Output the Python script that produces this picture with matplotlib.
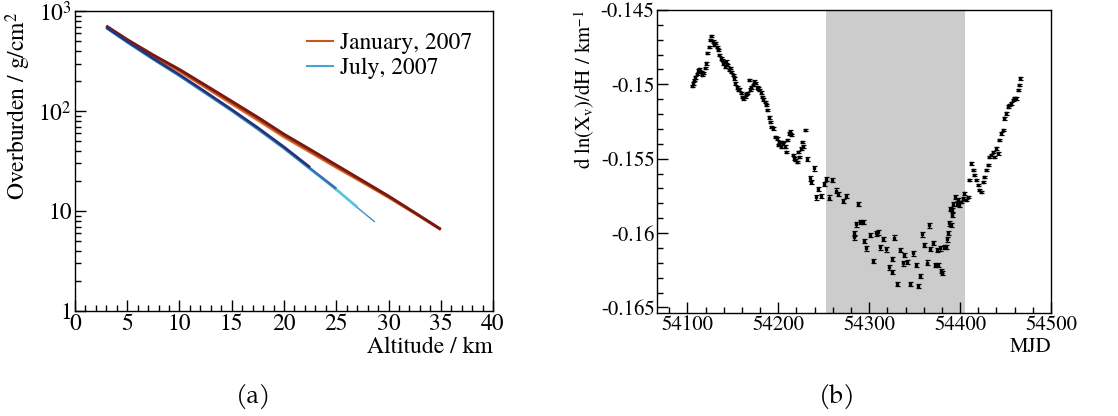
import matplotlib
matplotlib.use("Agg")
import matplotlib.pyplot as plt
from matplotlib.ticker import MultipleLocator, LogLocator, FixedLocator, FuncFormatter, NullFormatter
import numpy as np

plt.rcParams['font.family'] = ['TeX Gyre Termes', 'FreeSerif', 'DejaVu Serif']
plt.rcParams['mathtext.fontset'] = 'custom'
plt.rcParams['mathtext.rm'] = 'TeX Gyre Termes'
plt.rcParams['mathtext.it'] = 'TeX Gyre Termes:italic'
plt.rcParams['axes.unicode_minus'] = False

# (a) overburden profiles, altitude in km, overburden in g/cm^2
jan_alt = [3, 5, 7.5, 10, 12.5, 15, 17.5, 20, 22.5, 25, 27.5, 30, 32.5, 35]
jan_dark = [713, 522, 365, 262, 182, 126, 87, 59, 41.5, 29.0, 20.3, 14.2, 9.7, 6.6]
jan_mid = [710, 516, 360, 256, 177, 122, 84, 57, 40.0, 28.0, 19.8, 13.9, 9.6, 6.6]
jan_orange = [705, 510, 354, 250, 172, 118, 81, 55, 38.8, 27.3, 19.4, 13.7, 9.5, 6.5]

jul_alt = [3, 5, 7.5, 10, 12.5, 15, 17.5, 20, 22.5, 25, 27, 28.7]
jul_navy = [692, 500, 338, 232, 156, 104, 68.5, 44, 27.5]
jul_blue = [686, 494, 333, 228, 153, 102, 67, 43, 26.8, 16.8]
jul_cyan = [680, 490, 330, 226, 151, 101, 66, 42.5, 26.5, 16.5, 11.0]
jul_steel = [678, 488, 329, 225, 150, 100.5, 65.5, 42.2, 26.3, 16.4, 10.9, 7.8]

# (b) slope of ln(Xv) vs MJD
mjd = [54104.8, 54106.2, 54107.0, 54108.8, 54110.3, 54111.7, 54113.2, 54114.7, 54116.1, 54117.6,
       54119.1, 54120.6, 54122.0, 54123.5, 54125.0, 54126.4, 54127.9, 54129.4, 54130.8, 54132.3,
       54133.8, 54135.2, 54136.7, 54138.2, 54139.6, 54141.1, 54142.6, 54144.0, 54145.5, 54147.0,
       54148.4, 54149.9, 54151.4, 54152.8, 54154.3, 54155.8, 54157.2, 54158.7, 54160.2, 54161.7,
       54163.1, 54164.6, 54166.1, 54167.5, 54169.0, 54170.5, 54171.9, 54173.4, 54174.9, 54176.3,
       54177.8, 54179.3, 54180.7, 54182.2, 54183.7, 54185.1, 54186.6, 54188.1, 54189.5, 54191.0,
       54192.5, 54193.9, 54196.9, 54198.3, 54199.8, 54201.3, 54202.8, 54204.2, 54205.7, 54207.2,
       54208.6, 54210.1, 54211.6, 54213.0, 54214.5, 54216.0, 54217.4, 54218.9, 54220.4, 54221.8,
       54223.3, 54224.8, 54226.2, 54227.7, 54229.2, 54232.1, 54235.0, 54236.5, 54239.4, 54241.6,
       54243.9, 54246.8, 54250.5, 54252.7, 54256.0, 54259.3, 54263.0, 54265.9, 54271.0, 54274.0,
       54287.2, 54282.8, 54283.5, 54285.3, 54290.1, 54292.7, 54294.5, 54296.7, 54301.1, 54303.7,
       54307.3, 54309.9, 54312.1, 54314.7, 54318.3, 54322.0, 54324.6, 54324.9, 54327.5, 54330.4,
       54334.1, 54336.7, 54338.5, 54341.5, 54345.1, 54348.1, 54351.4, 54354.0, 54356.5, 54358.7,
       54360.2, 54363.5, 54366.1, 54367.2, 54370.1, 54372.3, 54374.5, 54376.3, 54378.2, 54378.9,
       54380.7, 54382.6, 54384.4, 54385.5, 54387.0, 54388.1, 54389.2, 54390.6, 54391.0, 54391.7,
       54392.8, 54394.7, 54396.5, 54398.0, 54399.4, 54400.9, 54402.8, 54404.6, 54406.4, 54408.3,
       54410.1, 54411.9, 54413.8, 54415.6, 54417.4, 54419.3, 54421.1, 54422.9, 54424.8, 54426.6,
       54428.4, 54430.3, 54432.1, 54433.9, 54435.8, 54437.6, 54439.4, 54441.3, 54443.1, 54444.9,
       54446.8, 54448.6, 54450.5, 54452.3, 54454.1, 54456.0, 54457.8, 54459.6, 54461.5, 54463.3,
       54464.8, 54466.2]
slope = [-0.15011, -0.14993, -0.14971, -0.14953, -0.14930, -0.14908, -0.14897, -0.14915, -0.14937, -0.14922,
         -0.14892, -0.14859, -0.14791, -0.14747, -0.14702, -0.14675, -0.14713, -0.14735, -0.14724, -0.14747,
         -0.14769, -0.14803, -0.14825, -0.14836, -0.14859, -0.14881, -0.14847, -0.14870, -0.14904, -0.14892,
         -0.14915, -0.14937, -0.14960, -0.14993, -0.15020, -0.15038, -0.15034, -0.15060, -0.15083, -0.15094,
         -0.15083, -0.15065, -0.15060, -0.14971, -0.15034, -0.15020, -0.15004, -0.14982, -0.14989, -0.15020,
         -0.15027, -0.15038, -0.15056, -0.15083, -0.15101, -0.15117, -0.15139, -0.15173, -0.15222, -0.15251,
         -0.15285, -0.15296, -0.15352, -0.15363, -0.15408, -0.15386, -0.15419, -0.15386, -0.15397, -0.15419,
         -0.15453, -0.15374, -0.15330, -0.15318, -0.15341, -0.15475, -0.15498, -0.15509, -0.15520, -0.15453,
         -0.15487, -0.15431, -0.15386, -0.15419, -0.15307, -0.15502, -0.15632, -0.15655, -0.15565, -0.15760,
         -0.15704, -0.15749, -0.15670, -0.15637, -0.15762, -0.15643, -0.15715, -0.15737, -0.15785, -0.15751,
         -0.15805, -0.16029, -0.16002, -0.15942, -0.15924, -0.15924, -0.16052, -0.16103, -0.16013, -0.16188,
         -0.16002, -0.15995, -0.16096, -0.16040, -0.16110, -0.16231, -0.16175, -0.16260, -0.16031, -0.16343,
         -0.16114, -0.16204, -0.16148, -0.16193, -0.16343, -0.16137, -0.16215, -0.16354, -0.16289, -0.16009,
         -0.16081, -0.16199, -0.15948, -0.16108, -0.16065, -0.16215, -0.16114, -0.16215, -0.16103, -0.16253,
         -0.16270, -0.16092, -0.16092, -0.16043, -0.15998, -0.15935, -0.15839, -0.15946, -0.15879, -0.15845,
         -0.15805, -0.15756, -0.15801, -0.15778, -0.15812, -0.15790, -0.15767, -0.15733, -0.15778, -0.15756,
         -0.15643, -0.15531, -0.15576, -0.15610, -0.15643, -0.15677, -0.15711, -0.15722, -0.15655, -0.15621,
         -0.15576, -0.15543, -0.15487, -0.15475, -0.15453, -0.15487, -0.15431, -0.15464, -0.15374, -0.15330,
         -0.15307, -0.15229, -0.15195, -0.15150, -0.15139, -0.15128, -0.15105, -0.15094, -0.15094, -0.15038,
         -0.15004, -0.14960]
summer = (54252, 54405)


def root_ticks(ax):
    ax.tick_params(which='both', direction='in', top=False, right=False, width=1)
    ax.tick_params(which='major', length=8)
    ax.tick_params(which='minor', length=4)
    for s in ax.spines.values():
        s.set_linewidth(1)


fig = plt.figure(figsize=(11.18, 4.16), dpi=100)

# ---- (a)
ax1 = fig.add_axes([0.067, 0.252, 0.374, 0.721])
jan_sets = [(jan_orange, '#d9782e', 1.8), (jan_mid, '#b8451c', 1.8), (jan_dark, '#7a1710', 2.0)]
for vals, c, lw in jan_sets:
    ax1.plot(jan_alt[:len(vals)], vals, color=c, lw=lw, solid_capstyle='butt')
jul_sets = [(jul_steel, '#3f8fc4', 1.0), (jul_cyan, '#5ac6dc', 2.0),
            (jul_blue, '#3a6fb0', 1.8), (jul_navy, '#28307a', 1.8)]
for vals, c, lw in jul_sets:
    ax1.plot(jul_alt[:len(vals)], vals, color=c, lw=lw, solid_capstyle='butt')

ax1.set_yscale('log')
ax1.set_xlim(0, 40)
ax1.set_ylim(1, 1000)
ax1.xaxis.set_major_locator(MultipleLocator(5))
ax1.xaxis.set_minor_locator(MultipleLocator(1))
ax1.yaxis.set_major_locator(FixedLocator([1, 10, 100, 1000]))
ax1.yaxis.set_minor_locator(LogLocator(base=10, subs=np.arange(2, 10)))
ax1.yaxis.set_minor_formatter(NullFormatter())
ax1.yaxis.set_major_formatter(FuncFormatter(
    lambda v, p: {1: '1', 10: '10', 100: '$10^{2}$', 1000: '$10^{3}$'}.get(int(round(v)), '')))
root_ticks(ax1)
ax1.tick_params(labelsize=17, pad=2)
ax1.set_xlabel('Altitude / km', fontsize=17, loc='right', labelpad=1)
ax1.set_ylabel('Overburden / g/cm$^{2}$', fontsize=17, loc='top', labelpad=4)

ax1.plot([], [], color='#c8561e', lw=1.5, label='January, 2007')
ax1.plot([], [], color='#45a5d0', lw=1.5, label='July, 2007')
h, l = ax1.get_legend_handles_labels()
ax1.legend(h[-2:], l[-2:], loc='upper right', bbox_to_anchor=(1.0, 1.0), frameon=False,
           fontsize=17, handlelength=1.1, handletextpad=0.3, labelspacing=0.15)

# ---- (b)
ax2 = fig.add_axes([0.588, 0.248, 0.352, 0.728])
ax2.axvspan(summer[0], summer[1], color='#cccccc', lw=0, zorder=0)
err = np.where((np.array(mjd) > 54230) & (np.array(mjd) < 54400), 0.00015, 0.00008)
ax2.errorbar(mjd, slope, yerr=err, fmt='s', ms=1.5, color='black', ecolor='black',
             elinewidth=0.9, capsize=1.8, capthick=0.9, zorder=3)
ax2.set_xlim(54067, 54500)
ax2.set_ylim(-0.16536, -0.145)
ax2.xaxis.set_major_locator(MultipleLocator(100))
ax2.xaxis.set_minor_locator(MultipleLocator(20))
ax2.yaxis.set_major_locator(MultipleLocator(0.005))
ax2.yaxis.set_minor_locator(MultipleLocator(0.001))
ax2.yaxis.set_major_formatter(FuncFormatter(lambda v, p: '%g' % round(v, 4)))
root_ticks(ax2)
ax2.tick_params(labelsize=15, pad=2)
ax2.set_xlabel('MJD', fontsize=15, loc='right', labelpad=1)
ax2.set_ylabel('d ln(X$_{\\mathregular{v}}$)/dH / km$^{\\mathregular{-1}}$', fontsize=15,
               loc='top', labelpad=3)

fig.text(0.2265, 0.045, '(a)', fontsize=18, family='TeX Gyre Pagella', ha='center', va='center')
fig.text(0.7485, 0.045, '(b)', fontsize=18, family='TeX Gyre Pagella', ha='center', va='center')

fig.savefig('out.png', dpi=100)
